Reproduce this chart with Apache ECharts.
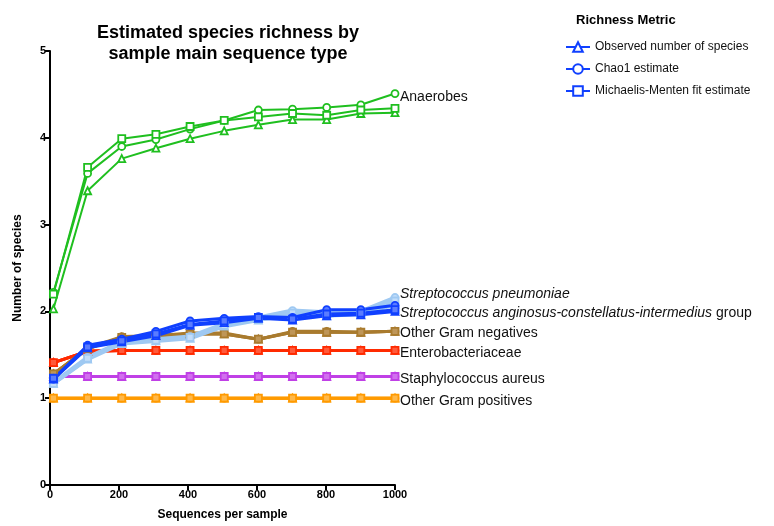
<!DOCTYPE html>
<html><head><meta charset="utf-8">
<script src="https://cdn.jsdelivr.net/npm/echarts@6/dist/echarts.min.js"></script>
<style>html,body{margin:0;padding:0;background:#fff}#c{width:774px;height:526px}</style>
</head><body><div id="c"></div>
<script>
const seqs = [10,109,208,307,406,505,604,703,802,901,1000];
const xTicks = [0,200,400,600,800,1000];
const yTicks = [0,1,2,3,4,5];
const metrics = ['Observed number of species','Chao1 estimate','Michaelis-Menten fit estimate'];

const anaerobesObs  = [2.03,3.39,3.76,3.88,3.99,4.08,4.15,4.21,4.21,4.28,4.29];
const anaerobesChao = [2.22,3.59,3.90,3.98,4.10,4.20,4.32,4.33,4.35,4.38,4.51];
const anaerobesMM   = [2.20,3.66,3.99,4.04,4.13,4.20,4.24,4.28,4.26,4.32,4.34];

const gramPosObs  = [1,1,1,1,1,1,1,1,1,1,1];
const gramPosChao = [1,1,1,1,1,1,1,1,1,1,1];
const gramPosMM   = [1,1,1,1,1,1,1,1,1,1,1];

const staphObs  = [1.25,1.25,1.25,1.25,1.25,1.25,1.25,1.25,1.25,1.25,1.25];
const staphChao = [1.25,1.25,1.25,1.25,1.25,1.25,1.25,1.25,1.25,1.25,1.25];
const staphMM   = [1.25,1.25,1.25,1.25,1.25,1.25,1.25,1.25,1.25,1.25,1.25];

const enteroObs  = [1.41,1.54,1.55,1.55,1.55,1.55,1.55,1.55,1.55,1.55,1.55];
const enteroChao = [1.41,1.54,1.55,1.55,1.55,1.55,1.55,1.55,1.55,1.55,1.55];
const enteroMM   = [1.41,1.54,1.55,1.55,1.55,1.55,1.55,1.55,1.55,1.55,1.55];

const gramNegObs  = [1.28,1.57,1.70,1.72,1.74,1.74,1.68,1.76,1.76,1.76,1.77];
const gramNegChao = [1.28,1.58,1.71,1.72,1.75,1.75,1.68,1.77,1.77,1.76,1.77];
const gramNegMM   = [1.28,1.57,1.70,1.72,1.74,1.74,1.68,1.76,1.76,1.76,1.77];

const pneumoObs  = [1.17,1.45,1.63,1.66,1.69,1.83,1.90,1.97,1.95,1.97,2.08];
const pneumoChao = [1.18,1.47,1.65,1.68,1.71,1.86,1.93,2.01,1.99,2.00,2.16];
const pneumoMM   = [1.17,1.46,1.64,1.67,1.70,1.84,1.91,1.98,1.97,1.99,2.12];

const angObs  = [1.22,1.58,1.65,1.72,1.84,1.87,1.92,1.90,1.95,1.96,2.00];
const angChao = [1.22,1.61,1.68,1.77,1.89,1.92,1.94,1.93,2.02,2.02,2.07];
const angMM   = [1.23,1.59,1.66,1.74,1.85,1.89,1.93,1.91,1.97,1.98,2.02];

const groupLabels = ['Anaerobes','Other Gram positives','Staphylococcus aureus','Enterobacteriaceae','Other Gram negatives','Streptococcus pneumoniae','Streptococcus anginosus-constellatus-intermedius'];

const FONT = 'Liberation Sans, Arial, sans-serif';
const pair = arr => seqs.map((x,i)=>[x,arr[i]]);
const symbols = ['triangle','circle','rect'];

function grp(color, fill, arrs, width, symSize, labelIdx, labelText, dy, rich) {
  return arrs.map((a,k)=>{
    const s = {
      type:'line', name: metrics[k] + ' ' + labelText.replace(/[{}|]/g,''),
      data: pair(a), symbol: symbols[k], symbolSize: symSize,
      lineStyle:{color, width}, itemStyle:{color: fill, borderColor: color, borderWidth:1.8},
      silent:true, animation:false, z: 2
    };
    if (k === labelIdx) {
      s.endLabel = {show:true, formatter: labelText, color:'#111', fontFamily:FONT, fontSize:14, distance:5, offset:[0,dy], rich: rich||{}};
    }
    return s;
  });
}

const italic = {fontStyle:'italic', fontSize:14, fontFamily:FONT, color:'#111'};
const normal = {fontSize:14, fontFamily:FONT, color:'#111'};

const series = [];
series.push(...grp('#1fbf1f', '#ffffff', [anaerobesObs, anaerobesChao, anaerobesMM], 2, 7, 1, groupLabels[0], 4));
series.push(...grp('#ff9a00', '#ffb84a', [gramPosObs, gramPosChao, gramPosMM], 3, 7, 2, groupLabels[1], 3));
series.push(...grp('#c040e6', '#d170ee', [staphObs, staphChao, staphMM], 3, 7, 2, groupLabels[2], 3));
series.push(...grp('#ff2a00', '#ff5a3a', [enteroObs, enteroChao, enteroMM], 3, 7, 2, groupLabels[3], 3));
series.push(...grp('#a97b2e', '#bf9658', [gramNegObs, gramNegChao, gramNegMM], 3, 7, 2, groupLabels[4], 2));
series.push(...grp('#9fc9f2', '#c4defa', [pneumoObs, pneumoChao, pneumoMM], 4, 7, 1, '{i|' + groupLabels[5] + '}', -3, {i:italic}));
series.push(...grp('#1040ff', '#5a7cff', [angObs, angChao, angMM], 3, 7, 0, '{i|' + groupLabels[6] + '}{n| group}', 2, {i:italic, n:normal}));

// legend entries for the three richness metrics
metrics.forEach((m,k)=>{
  series.push({type:'line', name:m, data:[], symbol:symbols[k], symbolSize:7,
    lineStyle:{color:'#1040ff', width:2.5}, itemStyle:{color:'#ffffff', borderColor:'#1040ff', borderWidth:1.8}});
});

const chart = echarts.init(document.getElementById('c'), null, {renderer:'canvas'});
chart.setOption({
  backgroundColor:'#fff',
  animation:false,
  title:[
    {text:'Estimated species richness by\nsample main sequence type', left:223, top:18, textAlign:'center',
     textStyle:{fontFamily:FONT, fontWeight:'bold', fontSize:18, lineHeight:21, color:'#000'}},
    {text:'Richness Metric', left:571, top:9,
     textStyle:{fontFamily:FONT, fontWeight:'bold', fontSize:13, color:'#000'}}
  ],
  legend:{
    data: metrics, orient:'vertical', left:560, top:36, itemWidth:24, itemHeight:12, itemGap:10,
    selectedMode:false, textStyle:{fontFamily:FONT, fontSize:12, color:'#111'}
  },
  grid:{left:50, right:379, top:51, bottom:39, containLabel:false},
  xAxis:{
    type:'value', min:xTicks[0], max:xTicks[xTicks.length-1], interval:200,
    name:'Sequences per sample', nameLocation:'middle', nameGap:24,
    nameTextStyle:{fontFamily:FONT, fontWeight:'bold', fontSize:12, color:'#000'},
    axisLine:{onZero:false, lineStyle:{color:'#000', width:2}},
    axisTick:{show:true, length:5, lineStyle:{color:'#000', width:2}},
    axisLabel:{fontFamily:FONT, fontWeight:'bold', fontSize:11, color:'#000', margin:4, formatter: v => String(v)},
    splitLine:{show:false}
  },
  yAxis:{
    type:'value', min:yTicks[0], max:yTicks[yTicks.length-1], interval:1,
    name:'Number of species', nameLocation:'middle', nameGap:26,
    nameTextStyle:{fontFamily:FONT, fontWeight:'bold', fontSize:12, color:'#000'},
    axisLine:{show:true, onZero:false, lineStyle:{color:'#000', width:2}},
    axisTick:{show:true, length:5, lineStyle:{color:'#000', width:2}},
    axisLabel:{fontFamily:FONT, fontWeight:'bold', fontSize:11, color:'#000', margin:4},
    splitLine:{show:false}
  },
  series
});
</script></body></html>
